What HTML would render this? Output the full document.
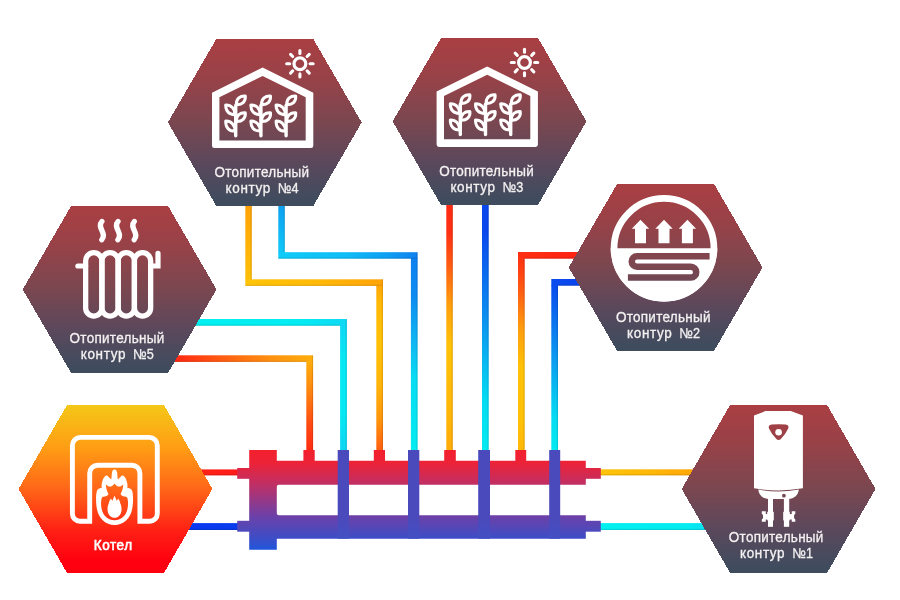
<!DOCTYPE html>
<html lang="ru">
<head>
<meta charset="utf-8">
<title>Схема отопления</title>
<style>
html,body{margin:0;padding:0;background:#fff;}
body{width:900px;height:600px;overflow:hidden;font-family:"Liberation Sans",sans-serif;}
body{position:relative;}
svg{display:block;position:absolute;left:0;top:0;}
#labels{will-change:transform;}
text{font-family:"Liberation Sans",sans-serif;fill:#f4f1f1;}
.lbl{font-size:13.5px;stroke:#f4f1f1;stroke-width:0.3px;}
.lblb{font-size:13.5px;fill:#fff;stroke:#fff;stroke-width:0.6px;}
</style>
</head>
<body>
<svg width="900" height="600" viewBox="0 0 900 600">
<defs>
<linearGradient id="g_h4" gradientUnits="userSpaceOnUse" x1="0" y1="39.0" x2="0" y2="205.9"><stop offset="0" stop-color="#aa3f43"/><stop offset="0.25" stop-color="#964248"/><stop offset="0.5" stop-color="#7a4750"/><stop offset="0.75" stop-color="#5a485c"/><stop offset="0.97" stop-color="#3f4c5e"/></linearGradient>
<linearGradient id="g_h3" gradientUnits="userSpaceOnUse" x1="0" y1="38.0" x2="0" y2="204.9"><stop offset="0" stop-color="#aa3f43"/><stop offset="0.25" stop-color="#964248"/><stop offset="0.5" stop-color="#7a4750"/><stop offset="0.75" stop-color="#5a485c"/><stop offset="0.97" stop-color="#3f4c5e"/></linearGradient>
<linearGradient id="g_h5" gradientUnits="userSpaceOnUse" x1="0" y1="206.0" x2="0" y2="372.9"><stop offset="0" stop-color="#aa3f43"/><stop offset="0.25" stop-color="#964248"/><stop offset="0.5" stop-color="#7a4750"/><stop offset="0.75" stop-color="#5a485c"/><stop offset="0.97" stop-color="#3f4c5e"/></linearGradient>
<linearGradient id="g_h2" gradientUnits="userSpaceOnUse" x1="0" y1="184.0" x2="0" y2="350.9"><stop offset="0" stop-color="#aa3f43"/><stop offset="0.25" stop-color="#964248"/><stop offset="0.5" stop-color="#7a4750"/><stop offset="0.75" stop-color="#5a485c"/><stop offset="0.97" stop-color="#3f4c5e"/></linearGradient>
<linearGradient id="g_k" gradientUnits="userSpaceOnUse" x1="0" y1="405.0" x2="0" y2="572.9"><stop offset="0" stop-color="#f5c718"/><stop offset="0.25" stop-color="#ff9e14"/><stop offset="0.5" stop-color="#ff6618"/><stop offset="0.75" stop-color="#ff2014"/><stop offset="0.93" stop-color="#ff0010"/></linearGradient>
<linearGradient id="g_h1" gradientUnits="userSpaceOnUse" x1="0" y1="405.0" x2="0" y2="572.9"><stop offset="0" stop-color="#aa3f43"/><stop offset="0.25" stop-color="#964248"/><stop offset="0.5" stop-color="#7a4750"/><stop offset="0.75" stop-color="#5a485c"/><stop offset="0.97" stop-color="#3f4c5e"/></linearGradient>
<linearGradient id="g_man" gradientUnits="userSpaceOnUse" x1="0" y1="450" x2="0" y2="550"><stop offset="0" stop-color="#f3202e"/><stop offset="0.12" stop-color="#ee2236"/><stop offset="0.36" stop-color="#bc3068"/><stop offset="0.65" stop-color="#6f40a6"/><stop offset="0.88" stop-color="#3d4dc6"/><stop offset="1" stop-color="#2056dc"/></linearGradient>
<linearGradient id="p0" gradientUnits="userSpaceOnUse" x1="0" y1="200" x2="0" y2="280.3"><stop offset="0" stop-color="#ffa008"/><stop offset="1" stop-color="#ffc008"/></linearGradient>
<linearGradient id="p1" gradientUnits="userSpaceOnUse" x1="245.3" y1="0" x2="383" y2="0"><stop offset="0" stop-color="#ffc408"/><stop offset="0.5" stop-color="#ffba08"/><stop offset="0.85" stop-color="#ffaa08"/><stop offset="1" stop-color="#ffa408"/></linearGradient>
<linearGradient id="p2" gradientUnits="userSpaceOnUse" x1="0" y1="285.0" x2="0" y2="452"><stop offset="0" stop-color="#ffa808"/><stop offset="0.1" stop-color="#ffb808"/><stop offset="0.35" stop-color="#ffc208"/><stop offset="0.6" stop-color="#ffb40a"/><stop offset="0.8" stop-color="#ff960c"/><stop offset="1" stop-color="#ff5c12"/></linearGradient>
<linearGradient id="p3" gradientUnits="userSpaceOnUse" x1="0" y1="200" x2="0" y2="253.2"><stop offset="0" stop-color="#0e9cf0"/><stop offset="1" stop-color="#10c8f8"/></linearGradient>
<linearGradient id="p4" gradientUnits="userSpaceOnUse" x1="278.3" y1="0" x2="417.6" y2="0"><stop offset="0" stop-color="#10ccf8"/><stop offset="0.5" stop-color="#10bcf6"/><stop offset="0.8" stop-color="#0e9cf2"/><stop offset="1" stop-color="#0e80f0"/></linearGradient>
<linearGradient id="p5" gradientUnits="userSpaceOnUse" x1="0" y1="258.0" x2="0" y2="452"><stop offset="0" stop-color="#0e80f0"/><stop offset="0.2" stop-color="#0e8cf0"/><stop offset="0.42" stop-color="#10b4f2"/><stop offset="0.62" stop-color="#08dcf2"/><stop offset="1" stop-color="#04ecf0"/></linearGradient>
<linearGradient id="p6" gradientUnits="userSpaceOnUse" x1="0" y1="200" x2="0" y2="452"><stop offset="0" stop-color="#ff2a12"/><stop offset="0.13" stop-color="#ff3012"/><stop offset="0.26" stop-color="#ff5c12"/><stop offset="0.42" stop-color="#ffa00c"/><stop offset="0.58" stop-color="#ffc208"/><stop offset="0.85" stop-color="#ffb608"/><stop offset="1" stop-color="#ffaa08"/></linearGradient>
<linearGradient id="p7" gradientUnits="userSpaceOnUse" x1="0" y1="200" x2="0" y2="452"><stop offset="0" stop-color="#0a48ee"/><stop offset="0.12" stop-color="#0a48ee"/><stop offset="0.45" stop-color="#0c8cf0"/><stop offset="0.8" stop-color="#06dcf2"/><stop offset="1" stop-color="#04eaf0"/></linearGradient>
<linearGradient id="p8" gradientUnits="userSpaceOnUse" x1="518" y1="0" x2="580" y2="0"><stop offset="0" stop-color="#ff3012"/><stop offset="1" stop-color="#ff2212"/></linearGradient>
<linearGradient id="p9" gradientUnits="userSpaceOnUse" x1="0" y1="258.0" x2="0" y2="452"><stop offset="0" stop-color="#ff3412"/><stop offset="0.06" stop-color="#ff4012"/><stop offset="0.18" stop-color="#ff6012"/><stop offset="0.36" stop-color="#ff9c0e"/><stop offset="0.56" stop-color="#ffc208"/><stop offset="0.85" stop-color="#ffc008"/><stop offset="1" stop-color="#ffb808"/></linearGradient>
<linearGradient id="p10" gradientUnits="userSpaceOnUse" x1="551.3" y1="0" x2="590" y2="0"><stop offset="0" stop-color="#0a4cee"/><stop offset="1" stop-color="#0a40ee"/></linearGradient>
<linearGradient id="p11" gradientUnits="userSpaceOnUse" x1="0" y1="285.0" x2="0" y2="452"><stop offset="0" stop-color="#0a4cee"/><stop offset="0.1" stop-color="#0a5cee"/><stop offset="0.45" stop-color="#0c9cf0"/><stop offset="0.8" stop-color="#06dcf2"/><stop offset="1" stop-color="#04eaf0"/></linearGradient>
<linearGradient id="p12" gradientUnits="userSpaceOnUse" x1="190" y1="0" x2="346.9" y2="0"><stop offset="0" stop-color="#02f0f0"/><stop offset="0.7" stop-color="#04ecf2"/><stop offset="1" stop-color="#10d8f4"/></linearGradient>
<linearGradient id="p13" gradientUnits="userSpaceOnUse" x1="0" y1="325.0" x2="0" y2="452"><stop offset="0" stop-color="#10d8f4"/><stop offset="0.3" stop-color="#06e8f2"/><stop offset="0.7" stop-color="#06e8f2"/><stop offset="1" stop-color="#10d4f2"/></linearGradient>
<linearGradient id="p14" gradientUnits="userSpaceOnUse" x1="170" y1="0" x2="313.1" y2="0"><stop offset="0" stop-color="#ff2212"/><stop offset="0.35" stop-color="#ff5a12"/><stop offset="0.7" stop-color="#ff9010"/><stop offset="1" stop-color="#ffae0c"/></linearGradient>
<linearGradient id="p15" gradientUnits="userSpaceOnUse" x1="0" y1="361.0" x2="0" y2="452"><stop offset="0" stop-color="#ffae0c"/><stop offset="0.3" stop-color="#ff8a10"/><stop offset="0.7" stop-color="#ff4a12"/><stop offset="1" stop-color="#ff2a12"/></linearGradient>
<linearGradient id="p16" gradientUnits="userSpaceOnUse" x1="195" y1="0" x2="240" y2="0"><stop offset="0" stop-color="#ff2414"/><stop offset="1" stop-color="#ff1a1a"/></linearGradient>
<linearGradient id="p17" gradientUnits="userSpaceOnUse" x1="182" y1="0" x2="240" y2="0"><stop offset="0" stop-color="#0838f0"/><stop offset="1" stop-color="#0a3cee"/></linearGradient>
<linearGradient id="p18" gradientUnits="userSpaceOnUse" x1="598" y1="0" x2="700" y2="0"><stop offset="0" stop-color="#ffc408"/><stop offset="0.5" stop-color="#ffb808"/><stop offset="1" stop-color="#ffa408"/></linearGradient>
<linearGradient id="p19" gradientUnits="userSpaceOnUse" x1="598" y1="0" x2="710" y2="0"><stop offset="0" stop-color="#02f0f0"/><stop offset="0.8" stop-color="#04ecf0"/><stop offset="1" stop-color="#10dcf2"/></linearGradient>
</defs>
<rect width="900" height="600" fill="#ffffff"/>
<g id="pipes">
<rect x="245.3" y="200" width="6.50" height="80.30" fill="url(#p0)"/>
<rect x="245.3" y="279.3" width="137.70" height="6.60" fill="url(#p1)"/>
<rect x="376.3" y="285.0" width="6.70" height="167.00" fill="url(#p2)"/>
<rect x="278.3" y="200" width="6.50" height="53.20" fill="url(#p3)"/>
<rect x="278.3" y="252.2" width="139.30" height="6.50" fill="url(#p4)"/>
<rect x="410.9" y="258.0" width="6.70" height="194.00" fill="url(#p5)"/>
<rect x="446.3" y="200" width="6.50" height="252.00" fill="url(#p6)"/>
<rect x="482.0" y="200" width="6.70" height="252.00" fill="url(#p7)"/>
<rect x="518" y="252" width="62.00" height="6.70" fill="url(#p8)"/>
<rect x="518" y="258.0" width="6.70" height="194.00" fill="url(#p9)"/>
<rect x="551.3" y="279" width="38.70" height="6.70" fill="url(#p10)"/>
<rect x="551.3" y="285.0" width="6.70" height="167.00" fill="url(#p11)"/>
<rect x="190" y="319" width="156.90" height="6.75" fill="url(#p12)"/>
<rect x="340.1" y="325.0" width="6.80" height="127.00" fill="url(#p13)"/>
<rect x="170" y="355.3" width="143.10" height="6.60" fill="url(#p14)"/>
<rect x="306.3" y="361.0" width="6.80" height="91.00" fill="url(#p15)"/>
<rect x="195" y="469.4" width="45.00" height="6.00" fill="url(#p16)"/>
<rect x="182" y="523.1" width="58.00" height="6.90" fill="url(#p17)"/>
<rect x="598" y="469.3" width="102.00" height="6.10" fill="url(#p18)"/>
<rect x="598" y="523.1" width="112.00" height="6.90" fill="url(#p19)"/>
<rect x="250.60" y="200" width="1.2" height="79.30" fill="#000" fill-opacity="0.11"/>
<rect x="245.3" y="284.70" width="136.50" height="1.2" fill="#000" fill-opacity="0.11"/>
<rect x="381.80" y="279.3" width="1.2" height="172.70" fill="#000" fill-opacity="0.11"/>
<rect x="283.60" y="200" width="1.2" height="52.20" fill="#000" fill-opacity="0.11"/>
<rect x="278.3" y="257.50" width="138.10" height="1.2" fill="#000" fill-opacity="0.11"/>
<rect x="416.40" y="252.2" width="1.2" height="199.80" fill="#000" fill-opacity="0.11"/>
<rect x="451.60" y="200" width="1.2" height="252.00" fill="#000" fill-opacity="0.11"/>
<rect x="487.50" y="200" width="1.2" height="252.00" fill="#000" fill-opacity="0.11"/>
<rect x="524.7" y="257.50" width="55.30" height="1.2" fill="#000" fill-opacity="0.11"/>
<rect x="523.50" y="258.7" width="1.2" height="193.30" fill="#000" fill-opacity="0.11"/>
<rect x="558" y="284.50" width="32.00" height="1.2" fill="#000" fill-opacity="0.11"/>
<rect x="556.80" y="285.7" width="1.2" height="166.30" fill="#000" fill-opacity="0.11"/>
<rect x="190" y="324.55" width="150.10" height="1.2" fill="#000" fill-opacity="0.11"/>
<rect x="345.70" y="319" width="1.2" height="133.00" fill="#000" fill-opacity="0.11"/>
<rect x="170" y="360.70" width="136.30" height="1.2" fill="#000" fill-opacity="0.11"/>
<rect x="311.90" y="355.3" width="1.2" height="96.70" fill="#000" fill-opacity="0.11"/>
<rect x="195" y="474.20" width="45.00" height="1.2" fill="#000" fill-opacity="0.11"/>
<rect x="182" y="528.80" width="58.00" height="1.2" fill="#000" fill-opacity="0.11"/>
<rect x="598" y="474.20" width="102.00" height="1.2" fill="#000" fill-opacity="0.11"/>
<rect x="598" y="528.80" width="112.00" height="1.2" fill="#000" fill-opacity="0.11"/>
</g>
<g id="manifold">
<path d="M249.2,450H276.8V460.8H585.8V484.7H278.8a2,2 0 0 0 -2,2V513.3a2,2 0 0 0 2,2H585.8V538.7H276.8V549.7H249.2Z" fill="url(#g_man)"/>
<rect x="237.2" y="468" width="13" height="10.8" fill="url(#g_man)"/>
<rect x="237.2" y="520.8" width="13" height="10.9" fill="url(#g_man)"/>
<rect x="585" y="468" width="15.8" height="10.8" fill="url(#g_man)"/>
<rect x="585" y="520.8" width="15.8" height="10.9" fill="url(#g_man)"/>
<rect x="303.4" y="450" width="11.30" height="11.5" fill="url(#g_man)"/>
<rect x="373.8" y="450" width="11.20" height="11.5" fill="url(#g_man)"/>
<rect x="444.2" y="450" width="11.60" height="11.5" fill="url(#g_man)"/>
<rect x="515.3" y="450" width="10.90" height="11.5" fill="url(#g_man)"/>
<linearGradient id="g_bar" gradientUnits="userSpaceOnUse" x1="0" y1="450" x2="0" y2="539"><stop offset="0" stop-color="#4a4abc"/><stop offset="0.8" stop-color="#4a4abc"/><stop offset="1" stop-color="#4250c4"/></linearGradient>
<rect x="337.7" y="450" width="11.30" height="88.7" fill="url(#g_bar)"/>
<rect x="408.0" y="450" width="11.30" height="88.7" fill="url(#g_bar)"/>
<rect x="478.2" y="450" width="11.80" height="88.7" fill="url(#g_bar)"/>
<rect x="549.2" y="450" width="11.00" height="88.7" fill="url(#g_bar)"/>
</g>
<g id="hexes">
<polygon points="216.30,39.00 313.30,39.00 361.70,122.45 313.30,205.90 216.30,205.90 167.90,122.45" fill="url(#g_h4)" shape-rendering="crispEdges"/>
<polygon points="441.00,38.00 538.00,38.00 586.40,121.45 538.00,204.90 441.00,204.90 392.60,121.45" fill="url(#g_h3)" shape-rendering="crispEdges"/>
<polygon points="71.10,206.00 168.10,206.00 216.50,289.45 168.10,372.90 71.10,372.90 22.70,289.45" fill="url(#g_h5)" shape-rendering="crispEdges"/>
<polygon points="617.10,184.00 714.10,184.00 762.50,267.45 714.10,350.90 617.10,350.90 568.70,267.45" fill="url(#g_h2)" shape-rendering="crispEdges"/>
<polygon points="67.00,405.00 164.00,405.00 212.40,488.95 164.00,572.90 67.00,572.90 18.60,488.95" fill="url(#g_k)" shape-rendering="crispEdges"/>
<polygon points="730.10,405.00 827.10,405.00 875.50,488.95 827.10,572.90 730.10,572.90 681.70,488.95" fill="url(#g_h1)" shape-rendering="crispEdges"/>
</g>
<g transform="translate(265.00,122.50)" fill="none" stroke="#fff">
<path fill="#fff" stroke="none" fill-rule="evenodd" d="M-53,-29.8L-2.4,-54.9L48.3,-29.8V23.2a2.4,2.4 0 0 1 -2.4,2.4H-50.6a2.4,2.4 0 0 1 -2.4,-2.4Z M-45.6,-25.2L-2.4,-46.5L40.7,-25.2V17.9H-45.6Z"/>
<circle cx="34.9" cy="-58.8" r="5.9" stroke-width="3.2"/>
<line x1="45.10" y1="-58.80" x2="48.10" y2="-58.80" stroke-width="3.1" stroke-linecap="round"/>
<line x1="42.11" y1="-51.59" x2="44.23" y2="-49.47" stroke-width="3.1" stroke-linecap="round"/>
<line x1="34.90" y1="-48.60" x2="34.90" y2="-45.60" stroke-width="3.1" stroke-linecap="round"/>
<line x1="27.69" y1="-51.59" x2="25.57" y2="-49.47" stroke-width="3.1" stroke-linecap="round"/>
<line x1="24.70" y1="-58.80" x2="21.70" y2="-58.80" stroke-width="3.1" stroke-linecap="round"/>
<line x1="27.69" y1="-66.01" x2="25.57" y2="-68.13" stroke-width="3.1" stroke-linecap="round"/>
<line x1="34.90" y1="-69.00" x2="34.90" y2="-72.00" stroke-width="3.1" stroke-linecap="round"/>
<line x1="42.11" y1="-66.01" x2="44.23" y2="-68.13" stroke-width="3.1" stroke-linecap="round"/>
<g transform="translate(-29.3,0)" stroke-width="3.0" stroke-linecap="round" stroke-linejoin="round">
<path d="M0,-17V13.3" stroke-width="3.4"/>
<path d="M0.6,-17.9C0.4,-23.9 4.6,-26.9 9.6,-26.5C10.2,-20.9 6.4,-17.5 0.6,-17.9Z"/>
<path d="M-0.6,-7.8C-7,-7.6 -10.2,-11.8 -10,-17.6C-4.4,-17.8 -0.8,-13.8 -0.6,-7.8Z"/>
<path d="M0.6,-1.0C0.4,-7.0 4.6,-10.2 9.6,-9.8C10.2,-4.2 6.4,-0.6 0.6,-1.0Z"/>
<path d="M-0.6,8.6C-7,8.8 -10.2,4.6 -10,-1.4C-4.4,-1.6 -0.8,2.6 -0.6,8.6Z"/>
</g>
<g transform="translate(-4.1,0)" stroke-width="3.0" stroke-linecap="round" stroke-linejoin="round">
<path d="M0,-17V13.3" stroke-width="3.4"/>
<path d="M0.6,-17.9C0.4,-23.9 4.6,-26.9 9.6,-26.5C10.2,-20.9 6.4,-17.5 0.6,-17.9Z"/>
<path d="M-0.6,-7.8C-7,-7.6 -10.2,-11.8 -10,-17.6C-4.4,-17.8 -0.8,-13.8 -0.6,-7.8Z"/>
<path d="M0.6,-1.0C0.4,-7.0 4.6,-10.2 9.6,-9.8C10.2,-4.2 6.4,-0.6 0.6,-1.0Z"/>
<path d="M-0.6,8.6C-7,8.8 -10.2,4.6 -10,-1.4C-4.4,-1.6 -0.8,2.6 -0.6,8.6Z"/>
</g>
<g transform="translate(21.1,0)" stroke-width="3.0" stroke-linecap="round" stroke-linejoin="round">
<path d="M0,-17V13.3" stroke-width="3.4"/>
<path d="M0.6,-17.9C0.4,-23.9 4.6,-26.9 9.6,-26.5C10.2,-20.9 6.4,-17.5 0.6,-17.9Z"/>
<path d="M-0.6,-7.8C-7,-7.6 -10.2,-11.8 -10,-17.6C-4.4,-17.8 -0.8,-13.8 -0.6,-7.8Z"/>
<path d="M0.6,-1.0C0.4,-7.0 4.6,-10.2 9.6,-9.8C10.2,-4.2 6.4,-0.6 0.6,-1.0Z"/>
<path d="M-0.6,8.6C-7,8.8 -10.2,4.6 -10,-1.4C-4.4,-1.6 -0.8,2.6 -0.6,8.6Z"/>
</g>
</g>
<g transform="translate(489.60,121.30)" fill="none" stroke="#fff">
<path fill="#fff" stroke="none" fill-rule="evenodd" d="M-53,-29.8L-2.4,-54.9L48.3,-29.8V23.2a2.4,2.4 0 0 1 -2.4,2.4H-50.6a2.4,2.4 0 0 1 -2.4,-2.4Z M-45.6,-25.2L-2.4,-46.5L40.7,-25.2V17.9H-45.6Z"/>
<circle cx="34.9" cy="-58.8" r="5.9" stroke-width="3.2"/>
<line x1="45.10" y1="-58.80" x2="48.10" y2="-58.80" stroke-width="3.1" stroke-linecap="round"/>
<line x1="42.11" y1="-51.59" x2="44.23" y2="-49.47" stroke-width="3.1" stroke-linecap="round"/>
<line x1="34.90" y1="-48.60" x2="34.90" y2="-45.60" stroke-width="3.1" stroke-linecap="round"/>
<line x1="27.69" y1="-51.59" x2="25.57" y2="-49.47" stroke-width="3.1" stroke-linecap="round"/>
<line x1="24.70" y1="-58.80" x2="21.70" y2="-58.80" stroke-width="3.1" stroke-linecap="round"/>
<line x1="27.69" y1="-66.01" x2="25.57" y2="-68.13" stroke-width="3.1" stroke-linecap="round"/>
<line x1="34.90" y1="-69.00" x2="34.90" y2="-72.00" stroke-width="3.1" stroke-linecap="round"/>
<line x1="42.11" y1="-66.01" x2="44.23" y2="-68.13" stroke-width="3.1" stroke-linecap="round"/>
<g transform="translate(-29.3,0)" stroke-width="3.0" stroke-linecap="round" stroke-linejoin="round">
<path d="M0,-17V13.3" stroke-width="3.4"/>
<path d="M0.6,-17.9C0.4,-23.9 4.6,-26.9 9.6,-26.5C10.2,-20.9 6.4,-17.5 0.6,-17.9Z"/>
<path d="M-0.6,-7.8C-7,-7.6 -10.2,-11.8 -10,-17.6C-4.4,-17.8 -0.8,-13.8 -0.6,-7.8Z"/>
<path d="M0.6,-1.0C0.4,-7.0 4.6,-10.2 9.6,-9.8C10.2,-4.2 6.4,-0.6 0.6,-1.0Z"/>
<path d="M-0.6,8.6C-7,8.8 -10.2,4.6 -10,-1.4C-4.4,-1.6 -0.8,2.6 -0.6,8.6Z"/>
</g>
<g transform="translate(-4.1,0)" stroke-width="3.0" stroke-linecap="round" stroke-linejoin="round">
<path d="M0,-17V13.3" stroke-width="3.4"/>
<path d="M0.6,-17.9C0.4,-23.9 4.6,-26.9 9.6,-26.5C10.2,-20.9 6.4,-17.5 0.6,-17.9Z"/>
<path d="M-0.6,-7.8C-7,-7.6 -10.2,-11.8 -10,-17.6C-4.4,-17.8 -0.8,-13.8 -0.6,-7.8Z"/>
<path d="M0.6,-1.0C0.4,-7.0 4.6,-10.2 9.6,-9.8C10.2,-4.2 6.4,-0.6 0.6,-1.0Z"/>
<path d="M-0.6,8.6C-7,8.8 -10.2,4.6 -10,-1.4C-4.4,-1.6 -0.8,2.6 -0.6,8.6Z"/>
</g>
<g transform="translate(21.1,0)" stroke-width="3.0" stroke-linecap="round" stroke-linejoin="round">
<path d="M0,-17V13.3" stroke-width="3.4"/>
<path d="M0.6,-17.9C0.4,-23.9 4.6,-26.9 9.6,-26.5C10.2,-20.9 6.4,-17.5 0.6,-17.9Z"/>
<path d="M-0.6,-7.8C-7,-7.6 -10.2,-11.8 -10,-17.6C-4.4,-17.8 -0.8,-13.8 -0.6,-7.8Z"/>
<path d="M0.6,-1.0C0.4,-7.0 4.6,-10.2 9.6,-9.8C10.2,-4.2 6.4,-0.6 0.6,-1.0Z"/>
<path d="M-0.6,8.6C-7,8.8 -10.2,4.6 -10,-1.4C-4.4,-1.6 -0.8,2.6 -0.6,8.6Z"/>
</g>
</g>
<g id="radiator" fill="none" stroke="#fff" stroke-width="5.3">
<rect x="85.65" y="252.65" width="16.25" height="63.4" rx="8.1" ry="8.1"/>
<rect x="101.90" y="252.65" width="16.25" height="63.4" rx="8.1" ry="8.1"/>
<rect x="118.15" y="252.65" width="16.25" height="63.4" rx="8.1" ry="8.1"/>
<rect x="134.40" y="252.65" width="16.25" height="63.4" rx="8.1" ry="8.1"/>
<path d="M77.9,266H85.6" stroke-linecap="round" stroke-width="5.2"/>
<path d="M150.6,266H158V253.4" stroke-linecap="round" stroke-width="5.2"/>
<path d="M101.9,221.5C96.2,227.4 107.6,233.6 101.8,239.8" stroke-width="5.3" stroke-linecap="round"/>
<path d="M118.0,221.5C112.3,227.4 123.7,233.6 117.9,239.8" stroke-width="5.3" stroke-linecap="round"/>
<path d="M134.3,221.5C128.6,227.4 140.0,233.6 134.2,239.8" stroke-width="5.3" stroke-linecap="round"/>
</g>
<g id="floor">
<circle cx="664" cy="248.4" r="49.95" fill="none" stroke="#fff" stroke-width="6.7"/>
<path d="M610.7,248.3H717.3A53.3,53.3 0 0 1 610.7,248.3Z" fill="#fff"/>
<path d="M709.6,256.25H637A5.25,5.25 0 0 0 637,266.75H690.8A5.4,5.4 0 0 1 690.8,277.6H627.9" fill="none" stroke="url(#g_h2)" stroke-width="6.5"/>
<path d="M640.5,219.7L649.2,228.8H646.0V243.3H635.0V228.8H631.8Z" fill="#fff"/>
<path d="M664.0,219.7L672.7,228.8H669.5V243.3H658.5V228.8H655.3Z" fill="#fff"/>
<path d="M687.4,219.7L696.1,228.8H692.9V243.3H681.9V228.8H678.6999999999999Z" fill="#fff"/>
</g>
<g id="boiler" fill="none" stroke="#fff">
<path stroke-width="4.9" stroke-linejoin="miter" d="M89.7,521.3V473.2A8,8 0 0 1 97.7,465.2H131.9A8,8 0 0 1 139.9,473.2V521.3H149.8A7.5,7.5 0 0 0 157.3,513.8V445.4A8,8 0 0 0 149.3,437.4H80.4A8,8 0 0 0 72.4,445.4V513.8A7.5,7.5 0 0 0 79.9,521.3Z"/>
<path fill="#fff" stroke="none" d="M114.55,469.60C116.25,469.60 117.15,471.40 117.35,474.60C117.45,476.40 117.55,478.00 117.85,479.40C119.15,478.40 120.75,477.00 121.95,475.60C123.15,474.90 124.15,476.00 125.15,477.60C126.75,480.40 127.95,484.20 127.35,488.20C129.15,487.80 131.15,488.80 132.15,490.80C133.35,495.00 133.35,503.00 132.15,509.00C130.35,518.60 123.55,525.00 114.55,525.00C105.55,525.00 98.75,518.60 96.95,509.00C95.75,503.00 95.75,495.00 96.95,490.80C97.95,488.80 99.95,487.80 101.75,488.20C101.15,484.20 102.35,480.40 103.95,477.60C104.95,476.00 105.95,474.90 107.15,475.60C108.35,477.00 109.95,478.40 111.25,479.40C111.55,478.00 111.65,476.40 111.75,474.60C111.95,471.40 112.85,469.60 114.55,469.60Z"/>
<path fill="url(#g_k)" stroke="none" d="M114.55,483.40C115.75,485.20 117.55,486.60 119.15,486.60C120.55,486.40 121.95,485.60 123.15,484.40C123.35,487.60 122.15,491.40 120.55,494.00C121.35,495.80 123.15,496.60 124.95,496.40C126.35,496.40 127.15,497.20 127.55,498.40C128.35,502.00 128.15,506.00 127.35,509.40C125.75,515.80 120.95,520.20 114.55,520.20C108.15,520.20 103.35,515.80 101.75,509.40C100.95,506.00 100.75,502.00 101.55,498.40C101.95,497.20 102.75,496.40 104.15,496.40C105.95,496.60 107.75,495.80 108.55,494.00C106.95,491.40 105.75,487.60 105.95,484.40C107.15,485.60 108.55,486.40 109.95,486.60C111.55,486.60 113.35,485.20 114.55,483.40Z"/>
<path fill="#fff" stroke="none" d="M114.55,495.80C115.45,497.40 116.15,499.00 116.55,500.80C117.25,500.20 117.75,499.50 118.15,498.60C119.35,500.20 120.15,502.00 120.35,503.60C121.35,505.60 121.55,507.40 121.55,509.40C121.55,514.40 118.35,517.80 114.55,517.80C110.75,517.80 107.55,514.40 107.55,509.40C107.55,507.40 107.75,505.60 108.75,503.60C108.95,502.00 109.75,500.20 110.95,498.60C111.35,499.50 111.85,500.20 112.55,500.80C112.95,499.00 113.65,497.40 114.55,495.80Z"/>
</g>
<g id="heater">
<path fill="#fff" d="M754,415.4L765.4,411.1H790.8L802.9,415.4V488.3Q778.5,492.6 754,488.3Z"/>
<path fill="#fff" d="M758.3,489.6Q778.5,493.6 798.8,489.6C798.4,495 794.5,499 788,499H769C762.5,499 758.7,495 758.3,489.6Z"/>
<circle cx="783.9" cy="495.7" r="1.9" fill="url(#g_h1)"/>
<rect x="768.0" y="498" width="5.0" height="28.8" fill="#fff"/>
<rect x="783.9" y="498" width="5.3" height="28.8" fill="#fff"/>
<rect x="767.2" y="511.8" width="6.6" height="8.6" fill="#fff"/>
<rect x="783.2" y="511.8" width="6.6" height="8.6" fill="#fff"/>
<path fill="#fff" d="M761.8,511.2H765.8V514H768.5V519.4H765.8V521.8H761.8V519.4L763,518.2V515L761.8,513.8Z"/>
<path fill="#fff" d="M795.3,511.2H791.7V514H788.8V519.4H791.7V521.8H795.3V519.4L794.1,518.2V515L795.3,513.8Z"/>
<path fill="url(#g_h1)" d="M771.6,424.6Q778.6,424.0 785.7,424.6Q789.4,425.2 788.2,428.6Q785.6,434.4 780.6,439.2Q778.6,440.8 776.6,439.2Q771.6,434.4 769.0,428.6Q767.8,425.2 771.6,424.6Z"/>
<circle cx="778.6" cy="432.2" r="3.3" fill="#fff"/>
</g>
</svg>
<svg id="labels" width="900" height="600" viewBox="0 0 900 600">
<text class="lbl" transform="translate(0,176.7) scale(1,1.06)" x="214.4" y="0" textLength="94.6" lengthAdjust="spacing">Отопительный</text><text class="lbl" transform="translate(0,192.6) scale(1,1.06)" y="0"><tspan x="225.6" textLength="44.6" lengthAdjust="spacing">контур</tspan> <tspan x="278.0" textLength="20.6" lengthAdjust="spacingAndGlyphs">№4</tspan></text>
<text class="lbl" transform="translate(0,175.6) scale(1,1.06)" x="439.2" y="0" textLength="94.6" lengthAdjust="spacing">Отопительный</text><text class="lbl" transform="translate(0,191.5) scale(1,1.06)" y="0"><tspan x="450.4" textLength="44.6" lengthAdjust="spacing">контур</tspan> <tspan x="502.8" textLength="20.6" lengthAdjust="spacingAndGlyphs">№3</tspan></text>
<text class="lbl" transform="translate(0,343.4) scale(1,1.06)" x="69.6" y="0" textLength="94.6" lengthAdjust="spacing">Отопительный</text><text class="lbl" transform="translate(0,359.3) scale(1,1.06)" y="0"><tspan x="80.8" textLength="44.6" lengthAdjust="spacing">контур</tspan> <tspan x="133.2" textLength="20.6" lengthAdjust="spacingAndGlyphs">№5</tspan></text>
<text class="lbl" transform="translate(0,321.7) scale(1,1.06)" x="615.9" y="0" textLength="94.6" lengthAdjust="spacing">Отопительный</text><text class="lbl" transform="translate(0,337.6) scale(1,1.06)" y="0"><tspan x="627.1" textLength="44.6" lengthAdjust="spacing">контур</tspan> <tspan x="679.5" textLength="20.6" lengthAdjust="spacingAndGlyphs">№2</tspan></text>
<text class="lbl" transform="translate(0,542.2) scale(1,1.06)" x="728.8" y="0" textLength="94.6" lengthAdjust="spacing">Отопительный</text><text class="lbl" transform="translate(0,558.1) scale(1,1.06)" y="0"><tspan x="740.0" textLength="44.6" lengthAdjust="spacing">контур</tspan> <tspan x="792.4" textLength="20.6" lengthAdjust="spacingAndGlyphs">№1</tspan></text>
<text class="lblb" transform="translate(0,549.6) scale(1,1.04)" x="93.7" y="0" textLength="38.4" lengthAdjust="spacing">Котел</text>
</svg>
</body>
</html>
